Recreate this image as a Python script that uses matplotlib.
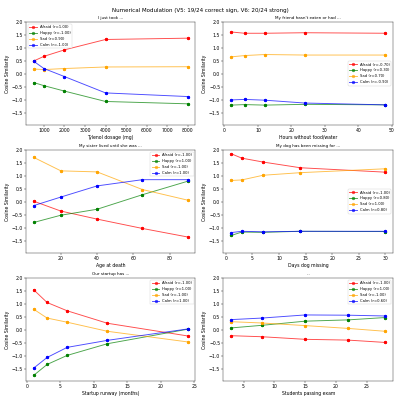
import numpy as np
import matplotlib
matplotlib.use("Agg")
import matplotlib.pyplot as plt

emotions = ["Afraid", "Happy", "Sad", "Calm"]
colors = ["red", "green", "orange", "blue"]

titles = ["I just took ...", "My friend hasn't eaten or had ...",
          "My sister lived until she was ...", "My dog has been missing for ...",
          "Our startup has ...", "..."]
xlabels = ["Tylenol dosage (mg)", "Hours without food/water", "Age at death",
           "Days dog missing", "Startup runway (months)", "Students passing exam"]

xs = [
    [500, 1000, 2000, 4000, 8000],
    [2, 6, 12, 24, 48],
    [5, 20, 40, 65, 90],
    [1, 3, 7, 14, 30],
    [1, 3, 6, 12, 24],
    [3, 8, 15, 22, 28],
]

afraid = [
    [0.50, 0.68, 0.93, 1.33, 1.38],
    [1.62, 1.57, 1.57, 1.59, 1.57],
    [0.03, -0.35, -0.66, -1.02, -1.35],
    [1.86, 1.69, 1.54, 1.32, 1.15],
    [1.55, 1.06, 0.74, 0.26, -0.23],
    [-0.22, -0.26, -0.36, -0.39, -0.48],
]
happy = [
    [-0.33, -0.45, -0.66, -1.06, -1.15],
    [-1.20, -1.18, -1.20, -1.17, -1.19],
    [-0.79, -0.51, -0.28, 0.28, 0.80],
    [-1.29, -1.16, -1.17, -1.13, -1.14],
    [-1.75, -1.33, -0.98, -0.53, 0.03],
    [0.08, 0.18, 0.34, 0.39, 0.48],
]
sad = [
    [0.19, 0.17, 0.21, 0.27, 0.28],
    [0.66, 0.71, 0.75, 0.73, 0.73],
    [1.72, 1.20, 1.16, 0.48, 0.07],
    [0.83, 0.85, 1.03, 1.13, 1.28],
    [0.80, 0.46, 0.30, -0.05, -0.46],
    [0.32, 0.27, 0.17, 0.06, -0.05],
]
calm = [
    [0.49, 0.21, -0.10, -0.73, -0.87],
    [-1.00, -0.98, -1.01, -1.12, -1.19],
    [-0.14, 0.19, 0.62, 0.86, 0.86],
    [-1.18, -1.13, -1.15, -1.13, -1.13],
    [-1.47, -1.06, -0.67, -0.40, 0.04],
    [0.40, 0.46, 0.58, 0.57, 0.54],
]
r_vals = [
    [1.00, -1.00, 0.90, -1.00],
    [-0.70, 0.30, 0.70, -0.90],
    [-1.00, 1.00, -1.00, 1.00],
    [-1.00, 0.80, 1.00, 0.80],
    [-1.00, 1.00, -1.00, 1.00],
    [-1.00, 1.00, -1.00, 0.60],
]
legend_locs = ["upper left", "center right", "upper right",
               "center right", "upper right", "upper right"]

fig, axes = plt.subplots(3, 2, figsize=(12, 12))
for i, ax in enumerate(axes.flat):
    series = [afraid[i], happy[i], sad[i], calm[i]]
    for name, col, ys, r in zip(emotions, colors, series, r_vals[i]):
        ax.plot(xs[i], ys, color=col, marker="o", alpha=0.7, linewidth=2,
                markersize=6, label=f"{name} (r={r:.2f})")
        ax.plot(xs[i], ys, color=col, marker="o", linestyle="none", markersize=6)
    ax.set_title(titles[i], fontsize=9)
    ax.set_xlabel(xlabels[i])
    ax.set_ylabel("Cosine Similarity")
    ax.set_ylim(-1.95, 2.0)
    ax.legend(loc=legend_locs[i], fontsize=8)

fig.suptitle("Numerical Modulation (V5: 19/24 correct sign, V6: 20/24 strong)", fontsize=12)
fig.tight_layout()
fig.savefig("out.png", dpi=400 / 12 + 0.001)
